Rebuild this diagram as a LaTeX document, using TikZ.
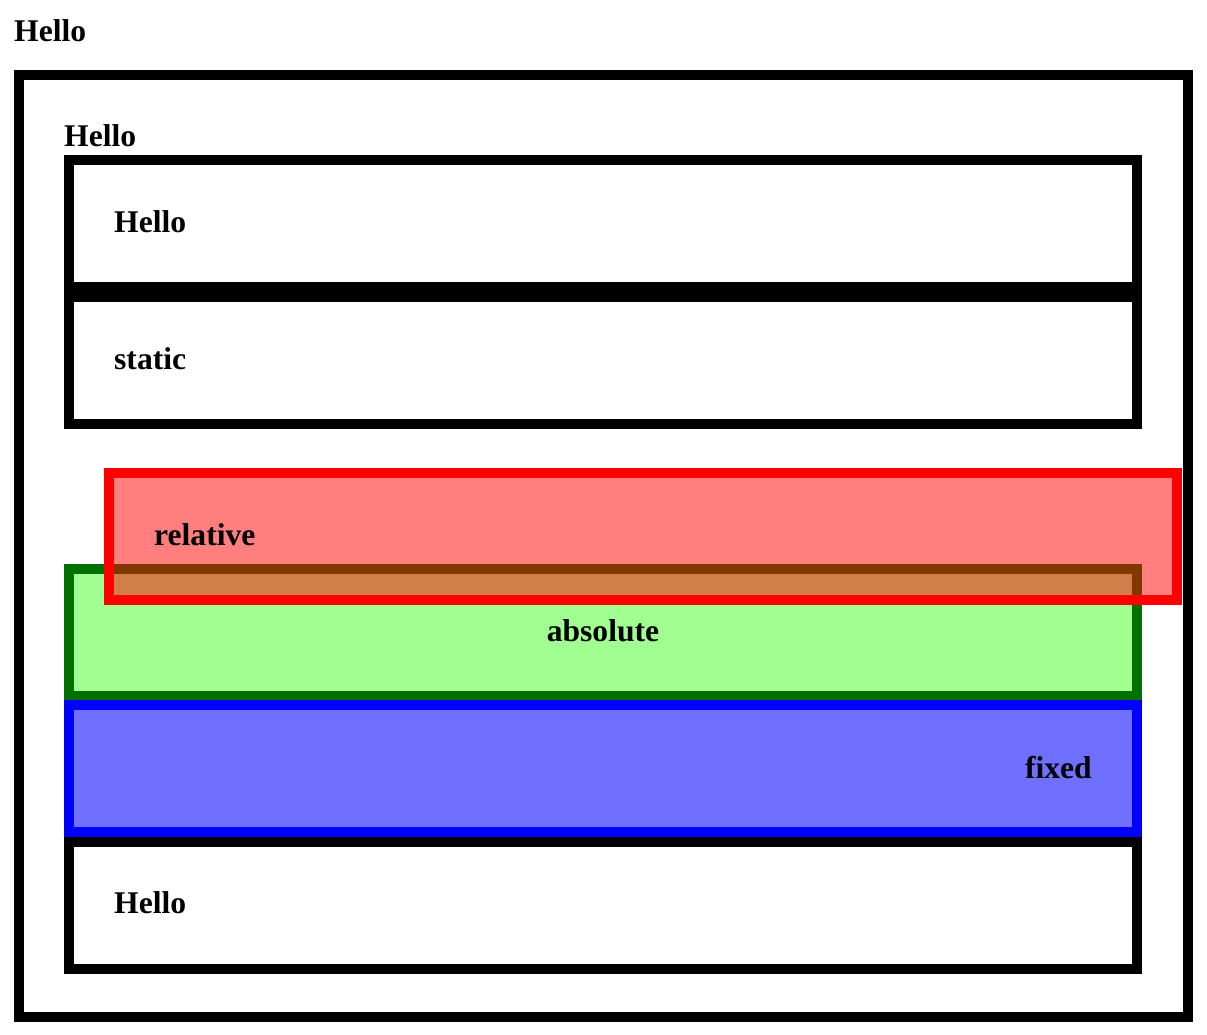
\documentclass[tikz,border=0pt]{standalone}
\usepackage{fontspec}
\setmainfont{Liberation Serif}
\definecolor{greenfill}{RGB}{160,255,144}
\definecolor{greenline}{RGB}{0,112,0}
\definecolor{bluefill}{RGB}{112,112,255}
\definecolor{blueline}{RGB}{0,0,255}
\definecolor{redline}{RGB}{255,0,0}
\begin{document}
\begin{tikzpicture}[x=1pt,y=-1pt,
  panel/.style={draw=black,line width=10pt,line join=miter,inner sep=0pt,
    anchor=north west,minimum width=1068pt,minimum height=127pt},
  lbl/.style={inner sep=0pt,font=\fontsize{31.6}{38}\selectfont\bfseries,text=black}]
\useasboundingbox (0,0) rectangle (1207,1035);
\fill[white] (0,0) rectangle (1207,1035);

% outer container (anchors sit on the outer edge of the border)
\node[panel,minimum width=1169pt,minimum height=942pt] (outer) at (14,70) {};

% normal-flow boxes
\node[panel] (boxA) at (64,155) {};
\node[panel] (boxB) at (64,292) {};

% absolute and fixed boxes
\node[panel,draw=greenline,fill=greenfill] (boxAbs) at (64,564) {};
\node[panel,draw=blueline,fill=bluefill] (boxFix) at (64,700) {};
\node[panel] (boxC) at (64,837) {};

% relative box, translucent fill on top
\node[panel,draw=redline,fill=redline,fill opacity=0.5,draw opacity=1] (boxRel) at (104,468) {};

% labels
\node[lbl,anchor=base west] (tTitle) at (14,42) {Hello};
\node[lbl,anchor=base west] (tInner) at (64,147) {Hello};
\node[lbl,anchor=base west] (tA) at (114,233) {Hello};
\node[lbl,anchor=base west] (tB) at (114,369) {static};
\node[lbl,anchor=base west] (tRel) at (154,545) {relative};
\node[lbl,anchor=base] (tAbs) at (603,641) {absolute};
\node[lbl,anchor=base east] (tFix) at (1092,778) {fixed};
\node[lbl,anchor=base west] (tC) at (114,913) {Hello};
\end{tikzpicture}
\end{document}
